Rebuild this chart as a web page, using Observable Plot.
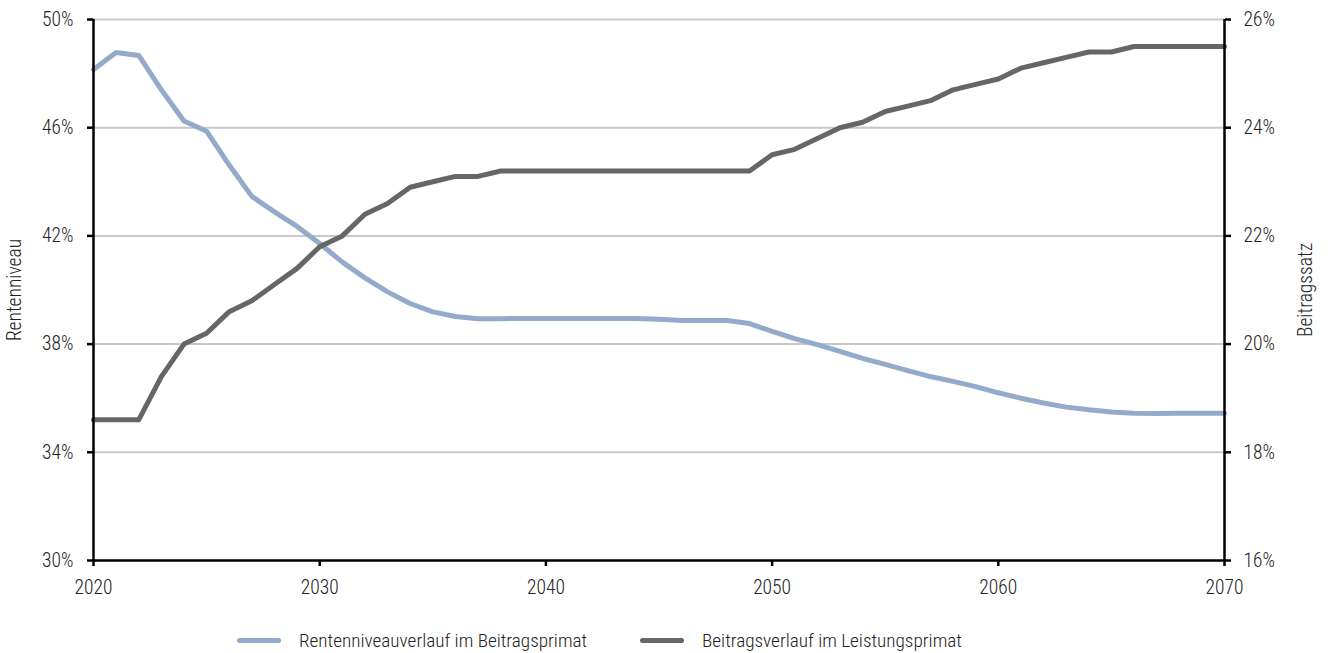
<!DOCTYPE html>
<html>
<head>
<meta charset="utf-8">
<script src="https://cdn.jsdelivr.net/npm/d3@7"></script>
<script src="https://cdn.jsdelivr.net/npm/@observablehq/plot@0.6"></script>
<style>
  html, body { margin: 0; padding: 0; background: #fff; }
  #chart { width: 1328px; }
  .legend { position: relative; height: 38px; width: 1328px; font-family: "Liberation Sans Narrow", "Roboto Condensed", "DejaVu Sans Condensed", sans-serif; font-size: 19.2px; font-weight: 300; color: #222; }
  .item { position: absolute; top: 14px; display: flex; align-items: center; }
  .sw { width: 44px; height: 5px; border-radius: 3px; margin-right: 18px; }
  svg text { font-weight: 300; }
</style>
</head>
<body>
<div id="chart"></div>
<script>
const years = d3.range(2020, 2071);
const rentenniveau = [
  48.15, 48.78, 48.67, 47.4, 46.25, 45.87, 44.62, 43.46, 42.89, 42.35,
  41.72, 41.03, 40.45, 39.93, 39.5, 39.19, 39.02, 38.94, 38.94, 38.95,
  38.95, 38.95, 38.95, 38.95, 38.95, 38.92, 38.87, 38.87, 38.87, 38.76,
  38.47, 38.2, 37.98, 37.73, 37.47, 37.25, 37.02, 36.8, 36.62, 36.43,
  36.2, 36.0, 35.82, 35.67, 35.57, 35.49, 35.44, 35.43, 35.44, 35.44, 35.44
];
const beitragssatz = [
  18.6, 18.6, 18.6, 19.4, 20.0, 20.2, 20.6, 20.8, 21.1, 21.4,
  21.8, 22.0, 22.4, 22.6, 22.9, 23.0, 23.1, 23.1, 23.2, 23.2,
  23.2, 23.2, 23.2, 23.2, 23.2, 23.2, 23.2, 23.2, 23.2, 23.2,
  23.5, 23.6, 23.8, 24.0, 24.1, 24.3, 24.4, 24.5, 24.7, 24.8,
  24.9, 25.1, 25.2, 25.3, 25.4, 25.4, 25.5, 25.5, 25.5, 25.5, 25.5
];
const leftTicks = [30, 34, 38, 42, 46, 50];
const rightTicks = [16, 18, 20, 22, 24, 26];
const xTicks = [2020, 2030, 2040, 2050, 2060, 2070];
const seriesNames = ["Rentenniveauverlauf im Beitragsprimat", "Beitragsverlauf im Leistungsprimat"];
const colors = ["#94aacb", "#666666"];

// map right-axis value onto the left-axis scale
const toLeft = v => 30 + (v - 16) * 2;
const fromLeft = v => (v - 30) / 2 + 16;

const blueData = years.map((y, i) => ({year: y, value: rentenniveau[i]}));
const greyData = years.map((y, i) => ({year: y, value: toLeft(beitragssatz[i])}));

const font = `"Liberation Sans Narrow", "Roboto Condensed", "DejaVu Sans Condensed", sans-serif`;
const fs = 19.5;
const textColor = "#222";

const plot = Plot.plot({
  width: 1328,
  height: 615,
  marginLeft: 93,
  marginRight: 104,
  marginTop: 19,
  marginBottom: 55,
  style: {fontFamily: font, fontSize: "18.5px", color: textColor, background: "#fff"},
  x: {domain: [2020, 2070]},
  y: {domain: [30, 50]},
  marks: [
    Plot.gridY(leftTicks.slice(1), {stroke: "#c8c8c8", strokeOpacity: 1, strokeWidth: 2}),
    Plot.line(blueData, {x: "year", y: "value", stroke: colors[0], strokeWidth: 5, strokeLinejoin: "round"}),
    Plot.line(greyData, {x: "year", y: "value", stroke: colors[1], strokeWidth: 5, strokeLinejoin: "round"}),
    Plot.ruleX([2020], {stroke: "#000", strokeWidth: 2.5}),
    Plot.ruleX([2070], {stroke: "#000", strokeWidth: 2.5}),
    Plot.ruleY([30], {stroke: "#000", strokeWidth: 2.5}),
    // tick marks only
    Plot.axisY(leftTicks, {anchor: "left", tickSize: 6, strokeWidth: 2.5, stroke: "#000", text: null, label: null}),
    Plot.axisY(rightTicks.map(toLeft), {anchor: "right", tickSize: 6, strokeWidth: 2.5, stroke: "#000", text: null, label: null}),
    Plot.axisX(xTicks, {anchor: "bottom", tickSize: 6, strokeWidth: 2.5, stroke: "#000", text: null, label: null}),
    // labels only
    Plot.axisY(leftTicks, {
      anchor: "left", tickSize: 0, tickPadding: 20, fill: textColor, fontSize: fs,
      tickFormat: d => d + "%", label: "Rentenniveau", labelAnchor: "center", labelArrow: "none", labelOffset: 86
    }),
    Plot.axisY(rightTicks.map(toLeft), {
      anchor: "right", tickSize: 0, tickPadding: 19, fill: textColor, fontSize: fs,
      tickFormat: d => fromLeft(d) + "%", label: "Beitragssatz", labelAnchor: "center", labelArrow: "none", labelOffset: 87
    }),
    Plot.axisX(xTicks, {
      anchor: "bottom", tickSize: 0, tickPadding: 20, fill: textColor, fontSize: fs,
      tickFormat: d => String(d), label: null
    })
  ]
});
document.getElementById("chart").appendChild(plot);

const legend = document.createElement("div");
legend.className = "legend";
const positions = [237, 640];
seriesNames.forEach((name, i) => {
  const it = document.createElement("div");
  it.className = "item";
  it.style.left = positions[i] + "px";
  const sw = document.createElement("div");
  sw.className = "sw";
  sw.style.background = colors[i];
  const tx = document.createElement("span");
  tx.textContent = name;
  it.appendChild(sw);
  it.appendChild(tx);
  legend.appendChild(it);
});
document.body.appendChild(legend);
</script>
</body>
</html>
